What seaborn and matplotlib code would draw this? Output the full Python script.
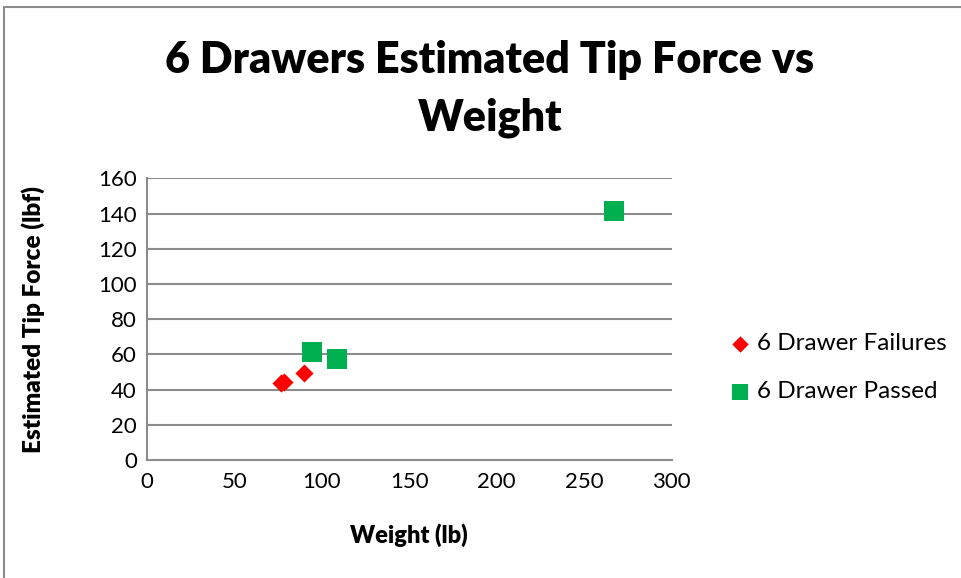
import matplotlib
matplotlib.use("Agg")
import matplotlib.pyplot as plt
import seaborn as sns
import pandas as pd
from matplotlib.patches import Rectangle

fail_weight = [76.5, 78.5, 90.0]
fail_force = [43.7, 44.3, 49.4]
pass_weight = [94.2, 108.5, 267.3]
pass_force = [61.2, 57.6, 141.2]
series_names = ["6 Drawer Failures", "6 Drawer Passed"]
x_ticks = [0, 50, 100, 150, 200, 250, 300]
y_ticks = [0, 20, 40, 60, 80, 100, 120, 140, 160]
title = "6 Drawers Estimated Tip Force vs\nWeight"
x_label = "Weight (lb)"
y_label = "Estimated Tip Force (lbf)"

df = pd.DataFrame({
    "weight": fail_weight + pass_weight,
    "force": fail_force + pass_force,
    "series": [series_names[0]] * len(fail_weight) + [series_names[1]] * len(pass_weight),
})

sns.set_theme(style="white")
plt.rcParams['font.family'] = ['Lato', 'DejaVu Sans']
plt.rcParams['text.color'] = 'black'
plt.rcParams['axes.labelcolor'] = 'black'

fig = plt.figure(figsize=(9.62, 5.78), dpi=100)
ax = fig.add_axes([146.7/962, 1-460/578, 525/962, (460-178.3)/578])

gray = "#8c8c8c"
fig.patches.append(Rectangle((4/962, -0.1), 1.2, (1.1 - 7/578), transform=fig.transFigure,
                             fill=False, edgecolor=gray, linewidth=1.5, zorder=0))

palette = {series_names[0]: "#ff0000", series_names[1]: "#00b050"}
markers = {series_names[0]: "D", series_names[1]: "s"}
sizes = {series_names[0]: 85, series_names[1]: 190}
legend_sizes = [70, 120]

for name in series_names:
    sub = df[df["series"] == name]
    sns.scatterplot(data=sub, x="weight", y="force", color=palette[name], marker=markers[name],
                    s=sizes[name], linewidth=0, ax=ax, label=name, zorder=3)

ax.set_xlim(0, 300)
ax.set_ylim(0, 160)
ax.set_xticks(x_ticks)
ax.set_yticks(y_ticks)
ax.tick_params(axis="both", labelsize=16, length=0, colors="black")
ax.tick_params(axis="x", pad=9)
ax.tick_params(axis="y", pad=7)
for yv in y_ticks[1:]:
    ax.axhline(yv, color=gray, linewidth=1.5, zorder=1)
for side in ["top", "right"]:
    ax.spines[side].set_visible(False)
for side in ["left", "bottom"]:
    ax.spines[side].set_color(gray)
    ax.spines[side].set_linewidth(1.5)

ax.set_xlabel(x_label, fontsize=17, fontweight="heavy")
ax.set_ylabel(y_label, fontsize=17.5, fontweight="heavy")
ax.xaxis.set_label_coords(0.5, (460-535)/(460-178.3))
ax.yaxis.set_label_coords((33-146.7)/525, 0.5)
ax.xaxis.label.set_va("center")
ax.yaxis.label.set_va("center")

fig.text(490/962, 1-89/578, title, ha="center", va="center", fontsize=31, fontweight="heavy",
         linespacing=1.55)

leg = ax.legend(loc="center left", bbox_to_anchor=(1.087, 0.328), frameon=False, fontsize=17.5,
                labelspacing=1.1, handletextpad=0.25, handlelength=0.9, borderpad=0)
for h, sz in zip(leg.legend_handles, legend_sizes):
    h.set_sizes([sz])

fig.savefig("out.png", dpi=100)
